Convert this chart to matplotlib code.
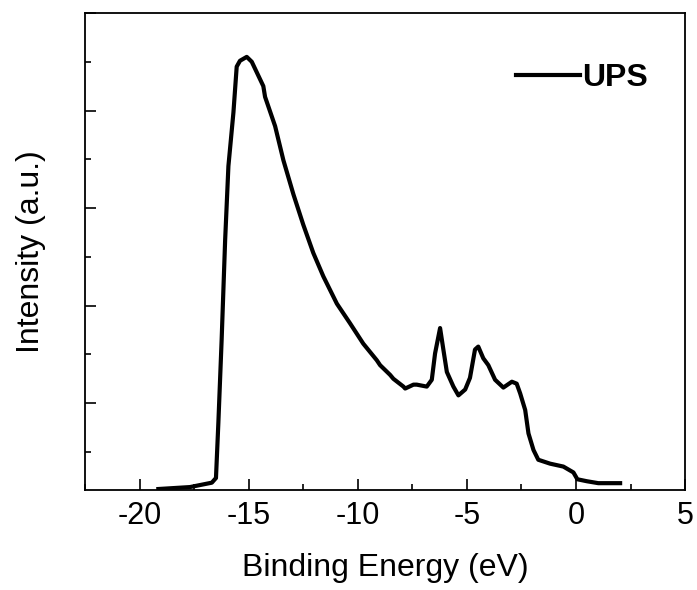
import matplotlib.pyplot as plt
from matplotlib.ticker import MultipleLocator

plt.rcParams['font.family'] = ['Liberation Sans', 'DejaVu Sans']
plt.rcParams['axes.unicode_minus'] = False

# UPS spectrum (binding energy in eV, intensity a.u.)
energy = [-19.14, -17.69, -16.69, -16.50, -16.39, -16.24, -16.08, -15.93,
          -15.70, -15.55, -15.40, -15.09, -14.86, -14.33, -14.25, -13.79,
          -13.41, -12.95, -12.50, -12.04, -11.58, -10.96, -10.36, -9.75,
          -9.13, -8.98, -8.52, -8.37, -7.91, -7.83, -7.45, -7.30, -6.84,
          -6.61, -6.46, -6.23, -6.08, -5.92, -5.62, -5.39, -5.08, -4.86,
          -4.63, -4.48, -4.25, -4.02, -3.71, -3.33, -2.94, -2.72, -2.56,
          -2.33, -2.18, -1.95, -1.73, -1.19, -0.58, -0.12, 0.06, 0.49,
          1.02, 2.02]
intensity = [0.12, 0.14, 0.185, 0.233, 0.80, 1.65, 2.67, 3.43,
             3.98, 4.45, 4.51, 4.55, 4.50, 4.25, 4.14, 3.84,
             3.49, 3.14, 2.83, 2.54, 2.30, 2.02, 1.82, 1.61,
             1.44, 1.39, 1.29, 1.25, 1.17, 1.15, 1.19, 1.19, 1.17,
             1.24, 1.51, 1.77, 1.55, 1.32, 1.17, 1.08, 1.14, 1.26,
             1.55, 1.58, 1.46, 1.39, 1.24, 1.16, 1.22, 1.20, 1.10,
             0.93, 0.69, 0.52, 0.42, 0.38, 0.35, 0.29, 0.22, 0.20,
             0.18, 0.18]

fig = plt.figure(figsize=(6.97, 5.90), dpi=100)
ax = fig.add_axes([0.122, 0.1695, 0.861, 0.8085])

ax.plot(energy, intensity, color='black', lw=3.0, label='UPS',
        solid_joinstyle='round')

ax.set_xlim(-22.5, 5)
ax.set_ylim(0.11, 5.0)
ax.xaxis.set_major_locator(MultipleLocator(5))
ax.xaxis.set_minor_locator(MultipleLocator(2.5))
ax.yaxis.set_major_locator(MultipleLocator(1))
ax.yaxis.set_minor_locator(MultipleLocator(0.5))
ax.tick_params(which='both', direction='in', top=False, right=False, width=1.2)
ax.tick_params(which='major', length=8, labelsize=22, pad=8)
ax.tick_params(which='minor', length=4.5)
ax.tick_params(axis='y', labelleft=False)
for s in ax.spines.values():
    s.set_linewidth(1.3)

ax.set_xlabel('Binding Energy (eV)', fontsize=23, labelpad=16)
ax.set_ylabel('Intensity (a.u.)', fontsize=23, labelpad=25)

leg = ax.legend(loc='upper right', bbox_to_anchor=(0.985, 0.955), frameon=False,
                handlelength=2.0, handletextpad=0.05,
                prop={'weight': 'bold', 'size': 23})

fig.savefig('out.png', dpi=100)
